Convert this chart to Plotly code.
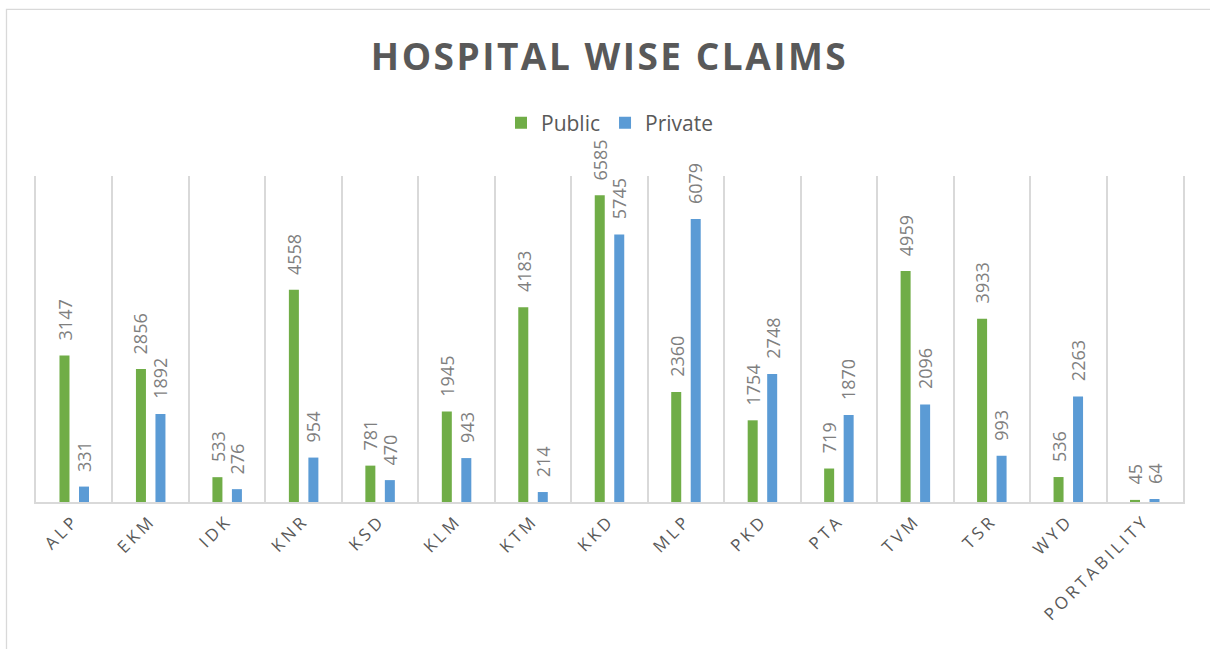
import plotly.graph_objects as go

categories = ["ALP", "EKM", "IDK", "KNR", "KSD", "KLM", "KTM", "KKD", "MLP",
              "PKD", "PTA", "TVM", "TSR", "WYD", "PORTABILITY"]
public = [3147, 2856, 533, 4558, 781, 1945, 4183, 6585, 2360, 1754, 719, 4959, 3933, 536, 45]
private = [331, 1892, 276, 954, 470, 943, 214, 5745, 6079, 2748, 1870, 2096, 993, 2263, 64]

W, H = 1210, 649
ML, MR, MT, MB = 36, 27, 176, 147
pw, ph = W - ML - MR, H - MT - MB
BARGAP, GROUPGAP = 0.49, 0.487
slot = pw / len(categories) * (1 - BARGAP) / 2

fig = go.Figure()
series = [("Public", public, "#70AD47", -slot / 2), ("Private", private, "#5B9BD5", slot / 2)]
for name, vals, col, _ in series:
    fig.add_trace(go.Bar(name=name, x=categories, y=vals, marker_color=col,
                         marker_line_width=0, hoverinfo="x+y+name"))

annotations = []
for name, vals, col, shift in series:
    for c, v in zip(categories, vals):
        annotations.append(dict(
            x=c, y=v, xref="x", yref="y", text=str(v), showarrow=False,
            textangle=-90, xanchor="center", yanchor="bottom",
            xshift=shift, yshift=13,
            font=dict(family="Open Sans", size=18, color="#7f7f7f")))

# chart-area border (Excel style)
fig.add_shape(type="rect", xref="paper", yref="paper",
              x0=(6.5 - ML) / pw, x1=(W + 10 - ML) / pw,
              y0=(H - MB - (H + 10)) / ph, y1=(H - MB - 9.3) / ph,
              line=dict(color="#d9d9d9", width=1.3), fillcolor="rgba(0,0,0,0)", layer="below")

fig.update_layout(
    width=W, height=H,
    margin=dict(l=ML, r=MR, t=MT, b=MB),
    paper_bgcolor="white", plot_bgcolor="white",
    barmode="group", bargap=BARGAP, bargroupgap=GROUPGAP,
    annotations=annotations,
    title=dict(text="<b>HOSPITAL WISE CLAIMS</b>", x=0.5, xanchor="center", xref="paper",
               y=1 - 57 / H, yanchor="middle", yref="container",
               font=dict(family="Open Sans", size=37, color="#595959")),
    legend=dict(orientation="h", x=0.5, xanchor="center", y=(H - MB - 123) / ph,
                yanchor="middle", font=dict(family="Open Sans", size=21, color="#595959"),
                itemwidth=30, traceorder="normal"),
    showlegend=True,
    xaxis=dict(type="category", tickson="boundaries", showgrid=True, gridcolor="#d9d9d9",
               gridwidth=1.5, showline=True, linecolor="#d9d9d9", linewidth=2,
               ticks="", tickangle=-45, range=[-0.5, len(categories) - 0.5],
               tickfont=dict(family="Open Sans", size=17, color="#595959")),
    yaxis=dict(range=[0, 7000], showgrid=False, showticklabels=False, zeroline=False,
               showline=True, mirror=True, linecolor="#d9d9d9", linewidth=1.5, ticks=""),
)

post = """
document.body.style.margin = '0';
var gd = document.getElementById('{plot_id}');
function spacing() {
  gd.querySelectorAll('.xtick text').forEach(function (t) { t.style.letterSpacing = '3.5px'; });
  var tt = gd.querySelector('.gtitle');
  if (tt) { tt.style.letterSpacing = '2.5px'; }
}
spacing();
gd.on('plotly_afterplot', spacing);
"""

fig.write_html("out.html", post_script=post, config={"displayModeBar": False})
